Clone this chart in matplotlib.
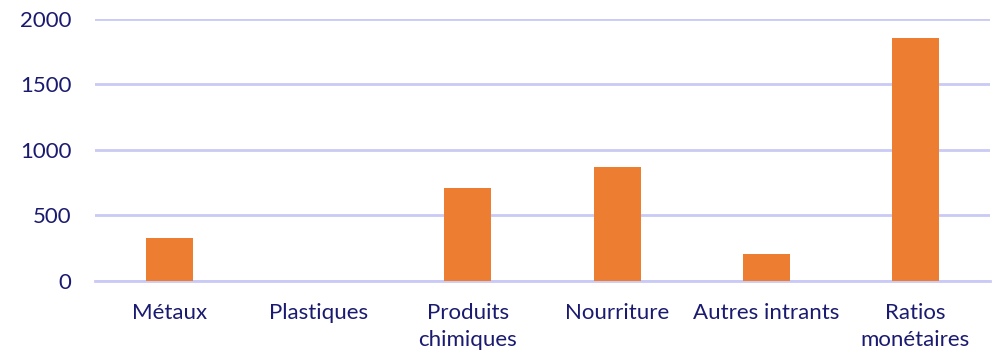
import numpy as np
import matplotlib.pyplot as plt

categories = ["Métaux", "Plastiques", "Produits\nchimiques", "Nourriture",
              "Autres intrants", "Ratios\nmonétaires"]
values = [328, 0, 708, 866, 205, 1850]
yticks = [0, 500, 1000, 1500, 2000]

bar_color = "#ED7D31"
text_color = "#1A1A70"
grid_color = "#CACAF6"

plt.rcParams["font.family"] = ["Lato", "DejaVu Sans"]

fig = plt.figure(figsize=(9.96, 3.54), dpi=100)
ax = fig.add_axes([0.0954, 0.2062, 0.8986, 0.7408])

x = np.arange(len(categories))
ax.bar(x, values, width=0.315, color=bar_color, zorder=3)

ax.set_xlim(-0.5, len(categories) - 0.5)
ax.set_ylim(0, 2000)
ax.set_yticks(yticks)
ax.set_yticklabels([str(v) for v in yticks])
ax.set_xticks(x)
ax.set_xticklabels(categories, linespacing=1.4)

ax.yaxis.grid(True, color=grid_color, linewidth=2, zorder=0)
ax.set_axisbelow(True)
for s in ax.spines.values():
    s.set_visible(False)
ax.axhline(0, color=grid_color, linewidth=2, zorder=1, clip_on=False)

ax.tick_params(axis="both", length=0, labelsize=16, labelcolor=text_color)
ax.tick_params(axis="y", pad=17)
ax.tick_params(axis="x", pad=16)

fig.savefig("out.png", dpi=100)
